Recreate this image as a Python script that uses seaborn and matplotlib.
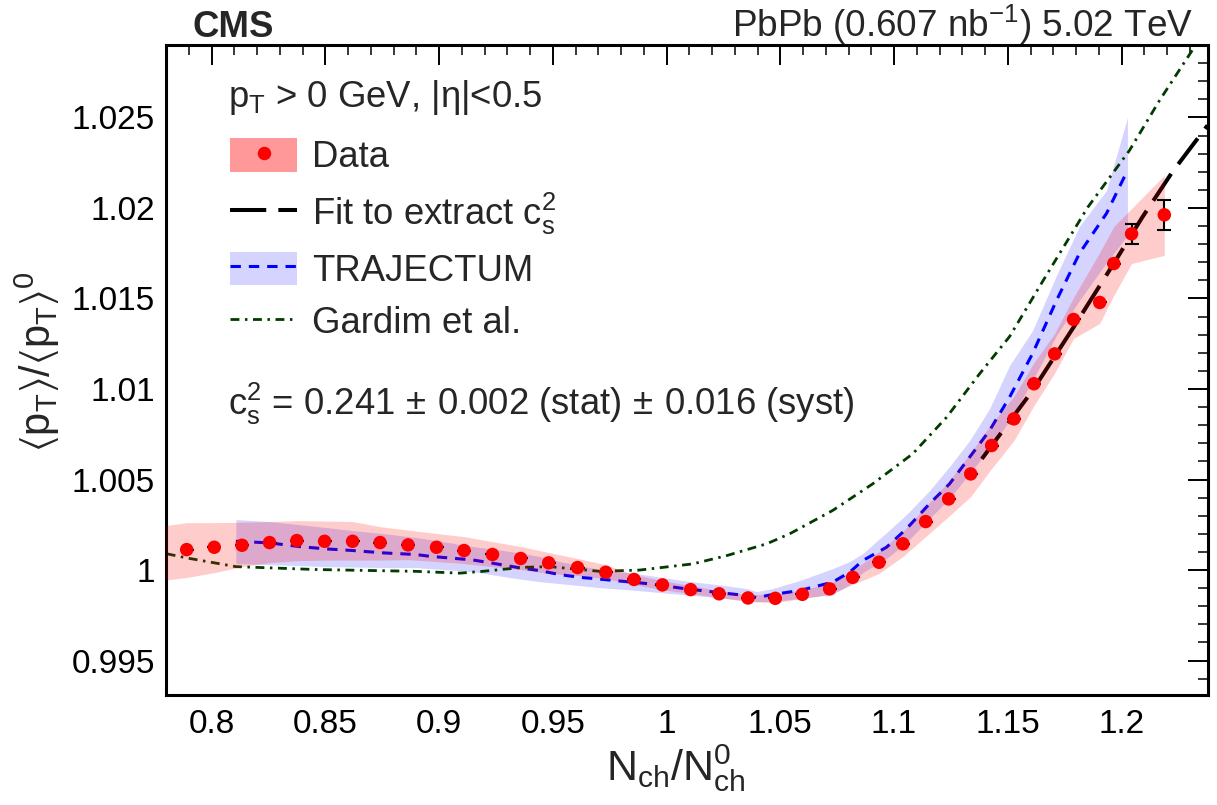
import numpy as np
import pandas as pd
import matplotlib
matplotlib.use("Agg")
import matplotlib.pyplot as plt
import seaborn as sns
from matplotlib.patches import Patch
from matplotlib.lines import Line2D
from matplotlib.ticker import MultipleLocator, FormatStrFormatter

# ---------------- data ----------------
nch = [0.7891, 0.8012, 0.8134, 0.8255, 0.8375, 0.8497, 0.8620, 0.8741, 0.8864, 0.8989,
       0.9110, 0.9235, 0.9359, 0.9482, 0.9609, 0.9733, 0.9857, 0.9982, 1.0106, 1.0231,
       1.0358, 1.0478, 1.0597, 1.0717, 1.0818, 1.0934, 1.1039, 1.1139, 1.1240, 1.1337,
       1.1429, 1.1527, 1.1615, 1.1706, 1.1789, 1.1904, 1.1966, 1.2044, 1.2188]
mean_pt = [1.00113, 1.00126, 1.00137, 1.00152, 1.00163, 1.00159, 1.00159, 1.00152, 1.00139, 1.00126,
           1.00108, 1.00086, 1.00064, 1.00040, 1.00014, 0.99988, 0.99948, 0.99918, 0.99892, 0.99869,
           0.99846, 0.99844, 0.99866, 0.99896, 0.99960, 1.00043, 1.00145, 1.00268, 1.00393, 1.00531,
           1.00688, 1.00835, 1.01029, 1.01194, 1.01384, 1.01478, 1.01693, 1.01857, 1.01962]
stat_err = [0.0] * 37 + [0.00054, 0.00083]

syst_x = [0.7800] + nch
syst_hi = [1.00246, 1.00262, 1.00262, 1.00264, 1.00268, 1.00273, 1.00271, 1.00268, 1.00240, 1.00221,
           1.00202, 1.00185, 1.00157, 1.00130, 1.00097, 1.00064, 1.00030, 0.99975, 0.99942, 0.99914,
           0.99887, 0.99865, 0.99865, 0.99892, 0.99925, 0.99997, 1.00102, 1.00213, 1.00351, 1.00489,
           1.00649, 1.00809, 1.00959, 1.01146, 1.01307, 1.01506, 1.01754, 1.01898, 1.01997, 1.02180]
syst_lo = [0.99945, 0.99959, 0.99986, 1.00019, 1.00041, 1.00052, 1.00055, 1.00055, 1.00055, 1.00058,
           1.00047, 1.00036, 1.00019, 1.00003, 0.99981, 0.99970, 0.99953, 0.99920, 0.99892, 0.99870,
           0.99848, 0.99826, 0.99820, 0.99843, 0.99865, 0.99920, 0.99981, 1.00075, 1.00185, 1.00296,
           1.00406, 1.00561, 1.00715, 1.00909, 1.01088, 1.01279, 1.01362, 1.01517, 1.01693, 1.01738]

traj_x = [0.8107, 0.8257, 0.8384, 0.8503, 0.8621, 0.8753, 0.8898, 0.8960, 0.9148, 0.9254,
          0.9342, 0.9443, 0.9531, 0.9619, 0.9707, 0.9825, 0.9926, 1.0071, 1.0221, 1.0352,
          1.0396, 1.0467, 1.0585, 1.0730, 1.0805, 1.0862, 1.0967, 1.1055, 1.1156, 1.1244,
          1.1332, 1.1420, 1.1508, 1.1609, 1.1714, 1.1815, 1.1934, 1.2026]
traj_y = [1.00159, 1.00150, 1.00130, 1.00117, 1.00108, 1.00095, 1.00086, 1.00076, 1.00056, 1.00034,
          1.00015, 0.99997, 0.99975, 0.99960, 0.99950, 0.99936, 0.99924, 0.99899, 0.99877, 0.99859,
          0.99848, 0.99865, 0.99887, 0.99933, 0.99988, 1.00052, 1.00126, 1.00228, 1.00366, 1.00476,
          1.00623, 1.00771, 1.00955, 1.01196, 1.01489, 1.01749, 1.01970, 1.02207]
traj_hi = [1.00279, 1.00268, 1.00251, 1.00235, 1.00218, 1.00202, 1.00180, 1.00169, 1.00130, 1.00113,
           1.00097, 1.00075, 1.00047, 1.00025, 1.00003, 0.99986, 0.99970, 0.99942, 0.99920, 0.99898,
           0.99881, 0.99898, 0.99942, 1.00008, 1.00047, 1.00091, 1.00207, 1.00307, 1.00439, 1.00572,
           1.00715, 1.00892, 1.01130, 1.01323, 1.01627, 1.01898, 1.02097, 1.02500]
traj_lo = [1.00036, 1.00030, 1.00025, 1.00019, 1.00017, 1.00014, 1.00014, 1.00008, 0.99992, 0.99970,
           0.99953, 0.99936, 0.99925, 0.99914, 0.99903, 0.99892, 0.99881, 0.99865, 0.99848, 0.99831,
           0.99826, 0.99826, 0.99843, 0.99865, 0.99920, 0.99986, 1.00064, 1.00152, 1.00285, 1.00395,
           1.00533, 1.00671, 1.00826, 1.01047, 1.01296, 1.01489, 1.01699, 1.01848]

gardim_x = [0.7803, 0.7891, 0.8107, 0.8459, 0.8898, 0.9091, 0.9192, 0.9368, 0.9487, 0.9707,
            0.9882, 1.0115, 1.0265, 1.0440, 1.0541, 1.0730, 1.0906, 1.1082, 1.1231, 1.1376,
            1.1508, 1.1653, 1.1851, 1.2035, 1.2167, 1.2325]
gardim_y = [1.00090, 1.00067, 1.00019, 1.00003, 0.99993, 0.99983, 0.99993, 1.00015, 1.00019, 0.99993,
            1.00000, 1.00034, 1.00080, 1.00145, 1.00200, 1.00329, 1.00476, 1.00642, 1.00844, 1.01084,
            1.01290, 1.01594, 1.02003, 1.02318, 1.02594, 1.02898]

fit_x = [1.1386, 1.1609, 1.1789, 1.1969, 1.2092, 1.2224, 1.2378]
fit_y = [1.00614, 1.00992, 1.01341, 1.01700, 1.01950, 1.02200, 1.02456]

x_ticks = [0.8, 0.85, 0.9, 0.95, 1.0, 1.05, 1.1, 1.15, 1.2]
y_ticks = [0.995, 1.0, 1.005, 1.01, 1.015, 1.02, 1.025]

# ---------------- style ----------------
sns.set_theme(style="white")
plt.rcParams['font.family'] = ['Liberation Sans', 'DejaVu Sans']
plt.rcParams['mathtext.fontset'] = 'custom'
plt.rcParams['mathtext.rm'] = 'Liberation Sans'
plt.rcParams['mathtext.it'] = 'Liberation Sans'
plt.rcParams['mathtext.bf'] = 'Liberation Sans:bold'
plt.rcParams['mathtext.sf'] = 'Liberation Sans'
plt.rcParams['mathtext.fallback'] = 'stixsans'
plt.rcParams['axes.unicode_minus'] = False

RED = '#ff0000'
BLUE = '#0000ff'
GREEN = '#003b00'

fig = plt.figure(figsize=(12.17, 8.05), dpi=100)
ax = fig.add_axes([166 / 1217, 1 - 695 / 805, 1042 / 1217, 650 / 805])

data = pd.DataFrame({'nch': nch, 'mpt': mean_pt, 'err': stat_err})
traj = pd.DataFrame({'x': traj_x, 'y': traj_y})
gard = pd.DataFrame({'x': gardim_x, 'y': gardim_y})
fit = pd.DataFrame({'x': fit_x, 'y': fit_y})

# TRAJECTUM band
ax.fill_between(traj_x, traj_lo, traj_hi, color=BLUE, alpha=0.17, lw=0, zorder=1)

# lines
sns.lineplot(data=fit, x='x', y='y', ax=ax, color='black', lw=2.9, estimator=None, sort=False,
             linestyle=(0, (8, 3)), zorder=2)
sns.lineplot(data=traj, x='x', y='y', ax=ax, color=BLUE, lw=2.2, estimator=None, sort=False,
             linestyle=(0, (3.4, 2.6)), zorder=2)
sns.lineplot(data=gard, x='x', y='y', ax=ax, color=GREEN, lw=2.0, estimator=None, sort=False,
             linestyle=(0, (3.2, 2.0, 0.9, 2.0)), zorder=2)

# data systematic band (on top of lines)
ax.fill_between(syst_x, syst_lo, syst_hi, color=RED, alpha=0.2, lw=0, zorder=3)

# stat errors
ax.errorbar(data['nch'], data['mpt'], yerr=data['err'], fmt='none', ecolor='black',
            elinewidth=1.5, capsize=4.7, capthick=1.5, zorder=4)
sns.scatterplot(data=data, x='nch', y='mpt', ax=ax, color=RED, s=94, edgecolor='none',
                linewidth=0, zorder=5, legend=False)

# axes
ax.set_xlim(0.78, 1.238)
ax.set_ylim(0.9931, 1.0290)
ax.set_xticks(x_ticks)
ax.set_yticks(y_ticks)
ax.xaxis.set_minor_locator(MultipleLocator(0.01))
ax.yaxis.set_minor_locator(MultipleLocator(0.001))
ax.xaxis.set_major_formatter(FormatStrFormatter('%g'))
ax.yaxis.set_major_formatter(FormatStrFormatter('%g'))
ax.tick_params(which='both', direction='in', top=True, right=True, colors='black')
ax.tick_params(which='major', length=14.4, width=1.4)
ax.tick_params(which='minor', length=7.2, width=1.1)
ax.tick_params(axis='x', which='major', labelsize=24, pad=10)
ax.tick_params(axis='y', which='major', labelsize=24, pad=8)
for sp in ax.spines.values():
    sp.set_linewidth(2.2)
    sp.set_color('black')
    sp.set_visible(True)

ax.set_xlabel(r'$\mathrm{N_{ch}/N^{0}_{ch}}$', fontsize=31)
ax.xaxis.set_label_coords(0.489, -0.072)
ax.set_ylabel(r'$\langle\mathrm{p_{T}}\rangle/\langle\mathrm{p_{T}}\rangle^{\mathrm{0}}$', fontsize=30)
ax.yaxis.set_label_coords(-0.100, 0.512)

# header texts
fig.text(192 / 1217, 1 - 36.7 / 805, 'CMS', fontsize=26.4, fontweight='bold', va='baseline', ha='left')
fig.text(1193 / 1217, 1 - 36.7 / 805, r'PbPb (0.607 nb$^{-1}$) 5.02 TeV', fontsize=26.6,
         va='baseline', ha='right')

fig.text(228 / 1217, 1 - 106.7 / 805, r'p$_{\mathrm{T}}$ > 0 GeV, |$\eta$|<0.5', fontsize=26.3,
         va='baseline', ha='left')
fig.text(228 / 1217, 1 - 415 / 805,
         r'c$_{\mathrm{s}}^{2}$ = 0.241$\,\pm\,$0.002 (stat)$\,\pm\,$0.016 (syst)', fontsize=26.3,
         va='baseline', ha='left')

# legend
h_data = (Patch(facecolor=RED, alpha=0.4, lw=0),
          Line2D([], [], color=RED, marker='o', ms=9.7, ls='none', mec='none'))
h_fit = Line2D([], [], color='black', lw=2.9, ls=(0, (9, 3)))
h_traj = (Patch(facecolor=BLUE, alpha=0.17, lw=0),
          Line2D([], [], color=BLUE, lw=2.2, ls=(0, (3.4, 2.6))))
h_gard = Line2D([], [], color=GREEN, lw=2.0, ls=(0, (3.2, 2.0, 0.9, 2.0)))
leg = ax.legend([h_data, h_fit, h_traj, h_gard],
                ['Data', r'Fit to extract c$_{\mathrm{s}}^{2}$', 'TRAJECTUM', 'Gardim et al.'],
                loc='upper left', bbox_to_anchor=(230 / 1217, 1 - 138 / 805),
                bbox_transform=fig.transFigure, frameon=False, borderpad=0, borderaxespad=0,
                handlelength=1.84, handleheight=1.05, handletextpad=0.4, labelspacing=0.41,
                fontsize=26.3)

fig.savefig('out.png', dpi=100)
